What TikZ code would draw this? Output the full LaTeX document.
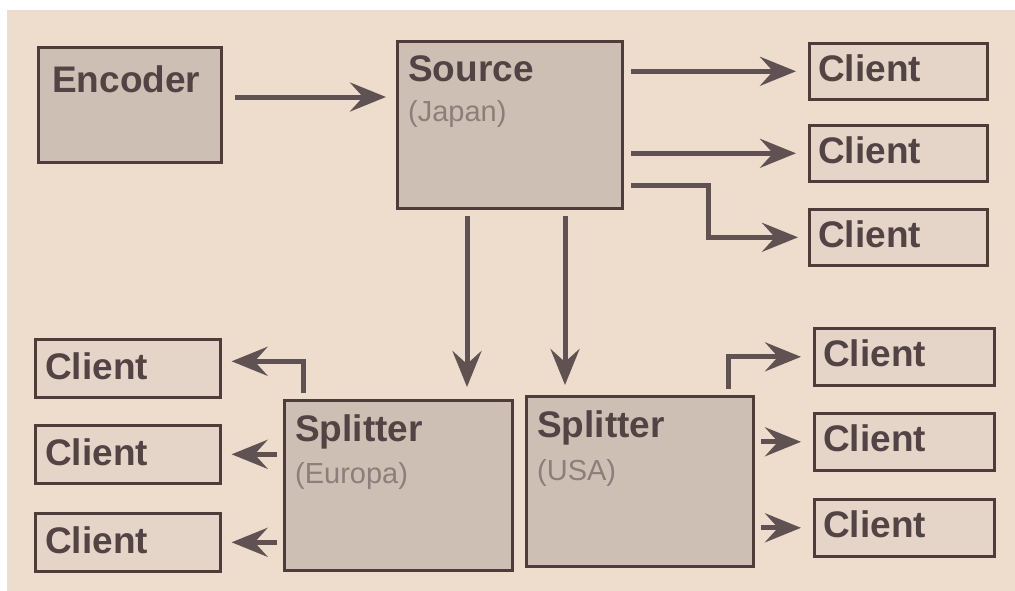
\documentclass[tikz,border=0pt]{standalone}
\usepackage{fontspec}
\setmainfont{Liberation Sans}
\usetikzlibrary{arrows.meta,calc}
\definecolor{paper}{RGB}{238,221,205}
\definecolor{boxfill}{RGB}{206,191,181}
\definecolor{clientfill}{RGB}{229,213,201}
\definecolor{edge}{RGB}{78,60,58}
\definecolor{flowcol}{RGB}{96,82,82}
\definecolor{ink}{RGB}{82,68,68}
\definecolor{subink}{RGB}{140,126,122}
\begin{document}
\begin{tikzpicture}[x=1pt,y=-1pt,
  box/.style={draw=edge, line width=3pt, fill=boxfill, anchor=north west, inner sep=0pt},
  clientbox/.style={draw=edge, line width=2.6pt, fill=clientfill, anchor=north west,
    inner sep=0pt, minimum width=180pt, minimum height=56pt},
  title/.style={anchor=base west, inner sep=0pt, text=ink, font=\fontsize{37}{40}\selectfont\bfseries},
  sub/.style={anchor=base west, inner sep=0pt, text=subink, font=\fontsize{29}{31}\selectfont},
  flow/.style={draw=flowcol, line width=5pt, line join=miter,
    -{Stealth[length=36pt,width=29pt,inset=13pt]}},
]
% page
\useasboundingbox (0,0) rectangle (1015,590);
\fill[white] (-5,-5) rectangle (1025,600);
\fill[paper] (7,10) rectangle (1025,600);

% main blocks
\node[box, minimum width=183pt, minimum height=115pt] (enc) at (37,46) {};
\node[box, minimum width=225pt, minimum height=167pt] (src) at (396,40) {};
\node[box, minimum width=228pt, minimum height=170pt] (eur) at (283,399) {};
\node[box, minimum width=227pt, minimum height=170pt] (usa) at (525,395) {};

\node[title] (encT) at ([shift={(15,46)}]enc.north west) {Encoder};
\node[title] (srcT) at ([shift={(12,41)}]src.north west) {Source};
\node[sub]   (srcS) at ([shift={(12,81)}]src.north west) {(Japan)};
\node[title] (eurT) at ([shift={(12,42)}]eur.north west) {Splitter};
\node[sub]   (eurS) at ([shift={(12,84)}]eur.north west) {(Europa)};
\node[title] (usaT) at ([shift={(12,42)}]usa.north west) {Splitter};
\node[sub]   (usaS) at ([shift={(12,85)}]usa.north west) {(USA)};

% clients fed by the source
\node[clientbox, minimum width=178pt] (c1) at (808,42) {};
\node[clientbox, minimum width=178pt] (c2) at (808,124) {};
\node[clientbox, minimum width=178pt] (c3) at (808,208) {};
% clients fed by the European splitter
\node[clientbox, minimum width=185pt, minimum height=58pt] (l1) at (34,338) {};
\node[clientbox, minimum width=185pt, minimum height=58pt] (l2) at (34,424) {};
\node[clientbox, minimum width=185pt, minimum height=58pt] (l3) at (34,512) {};
% clients fed by the US splitter
\node[clientbox, minimum height=57pt] (r1) at (813,327) {};
\node[clientbox, minimum height=57pt] (r2) at (813,412) {};
\node[clientbox, minimum height=57pt] (r3) at (813,498) {};

\foreach \c in {c1,c2,c3,r1,r2,r3}
  \node[title] (\c T) at ([shift={(10,39)}]\c.north west) {Client};
\foreach \c in {l1,l2,l3}
  \node[title] (\c T) at ([shift={(11,41)}]\c.north west) {Client};

% encoder to source
\draw[flow] ([shift={(12,51)}]enc.north east) -- ([shift={(-10,57)}]src.north west);

% source to its clients
\draw[flow] ([xshift=7pt]src.east |- c1.west) -- ([xshift=-12pt]c1.west);
\draw[flow] ([xshift=7pt]src.east |- c2.west) -- ([xshift=-12pt]c2.west);
\draw[flow] ([shift={(7,145)}]src.north east) -| ([xshift=-100pt]c3.west) -- ([xshift=-10pt]c3.west);

% source to the splitters
\draw[flow] ([shift={(71,6)}]src.south west) -- ([shift={(184,-12)}]eur.north west);
\draw[flow] ([shift={(169,6)}]src.south west) -- ([shift={(40,-10)}]usa.north west);

% European splitter to its clients
\draw[flow] ([shift={(20,-6)}]eur.north west) |- ([shift={(10,-7)}]l1.east);
\draw[flow] ([xshift=-6pt]eur.west |- l2.east) -- ([xshift=10pt]l2.east);
\draw[flow] ([xshift=-6pt]eur.west |- l3.east) -- ([xshift=10pt]l3.east);

% US splitter to its clients
\draw[flow] ([shift={(203,-6)}]usa.north west) |- ([xshift=-12pt]r1.west);
\draw[flow] ([xshift=6pt]usa.east |- r2.west) -- ([xshift=-12pt]r2.west);
\draw[flow] ([xshift=6pt]usa.east |- r3.west) -- ([xshift=-12pt]r3.west);
\end{tikzpicture}
\end{document}
